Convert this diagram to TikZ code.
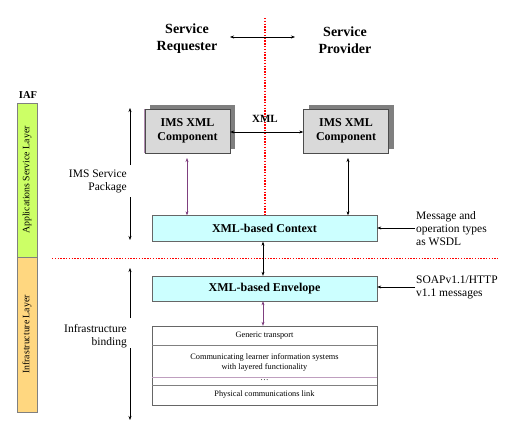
\documentclass[tikz,border=0pt]{standalone}
\usepackage{fontspec}
\setmainfont{Liberation Serif}
\usetikzlibrary{arrows.meta}
\definecolor{boxgray}{HTML}{D9D9D9}
\definecolor{shadowgray}{HTML}{7F7F7F}
\definecolor{ctxcyan}{HTML}{CCFFFF}
\definecolor{layergreen}{HTML}{CCFF66}
\definecolor{layerorange}{HTML}{FFD780}
\definecolor{purp}{HTML}{7F3F7F}
\definecolor{dotred}{HTML}{FF0000}
\tikzset{
  x=1pt, y=-1pt,
  arr/.style={-{Stealth[length=4pt,width=3pt]}, line width=0.5pt},
  darr/.style={{Stealth[length=4pt,width=3pt]}-{Stealth[length=4pt,width=3pt]}, line width=0.5pt},
  reddot/.style={draw=dotred, line width=1.8pt, dash pattern=on 1.4pt off 1.4pt},
  imsbox/.style={draw=black!70, fill=boxgray, minimum width=85pt, minimum height=44pt, font=\bfseries\fontsize{12}{14}\selectfont, align=center, inner sep=0pt},
  shadowbox/.style={fill=shadowgray, minimum width=85pt, minimum height=44pt, inner sep=0pt},
  ctxbox/.style={draw=black!60, fill=ctxcyan, minimum width=225pt, minimum height=26pt, font=\bfseries\fontsize{12}{14}\selectfont, inner sep=0pt},
  lbl/.style={font=\fontsize{11.5}{13}\selectfont, inner sep=1pt},
  small/.style={font=\fontsize{8.3}{10.5}\selectfont, inner sep=0pt},
  layer/.style={draw=black!50, minimum width=20pt, inner sep=0pt},
}
\begin{document}
\begin{tikzpicture}
\useasboundingbox (0,0) rectangle (517,431);
% dotted red lines
\coordinate (vtop) at (265,18);
\coordinate (vbot) at (265,215);
\coordinate (hl) at (52,258.5);
\coordinate (hr) at (498,258.5);
\draw[reddot] (vtop) -- (vbot);
\draw[reddot] (hl) -- (hr);
% header
\node[font=\bfseries\fontsize{14}{17}\selectfont, align=center] (req) at (187,39) {Service\\Requester};
\node[font=\bfseries\fontsize{14}{17}\selectfont, align=center] (prov) at (345,40) {Service\\Provider};
\coordinate (ra) at (230,37);
\coordinate (pa) at (295,37);
\draw[darr] (ra) -- (pa);
% IAF layers
\node[font=\bfseries\fontsize{10.5}{12}\selectfont] (iaf) at (28,95) {IAF};
\node[layer, fill=layergreen, minimum height=154pt] (app) at (27,180) {};
\node[layer, fill=layerorange, minimum height=155pt] (infra) at (27,334.5) {};
\node[rotate=90, font=\fontsize{9.8}{11}\selectfont] (appl) at (app) {Applications Service Layer};
\node[rotate=90, font=\fontsize{9.8}{11}\selectfont] (infl) at (infra) {Infrastructure Layer};
% IMS components with shadows
\node[shadowbox] (s1) at (192.5,126.5) {};
\node[imsbox] (c1) at (187.5,131) {IMS XML\\Component};
\draw[purp!60, line width=0.8pt] (c1.north west) -- (c1.south west);
\node[shadowbox] (s2) at (351,126.5) {};
\node[imsbox] (c2) at (346,131) {IMS XML\\Component};
\node[font=\bfseries\fontsize{11}{12}\selectfont] (xml) at (265,119) {XML};
\draw[darr] (c1.east |- 0,132) -- (c2.west |- 0,132);
% context and envelope
\node[ctxbox] (ctx) at (264.5,228.5) {XML-based Context};
\node[ctxbox, minimum height=25pt] (env) at (264.5,288.5) {XML-based Envelope};
\draw[darr, purp] (187,158) -- (ctx.north -| 187,0);
\draw[darr] (348,158) -- (ctx.north -| 348,0);
\draw[darr] (ctx.south -| 263,0) -- (env.north -| 263,0);
% right labels
\node[lbl, align=left, anchor=west] (wsdl) at (415,229) {Message and\\operation types\\as WSDL};
\node[lbl, align=left, anchor=west] (soap) at (415,287.5) {SOAPv1.1/HTTP\\v1.1 messages};
\draw[arr] (wsdl.west |- 0,228) -- (ctx.east |- 0,228);
\draw[arr] (soap.west |- 0,287) -- (env.east |- 0,287);
% transport stack
\node[draw=black!60, minimum width=225pt, minimum height=79pt, inner sep=0pt] (tr) at (264.5,365.5) {};
\coordinate (l1a) at (152,345); \coordinate (l1b) at (377,345);
\coordinate (l2a) at (152,377); \coordinate (l2b) at (377,377);
\coordinate (l3a) at (152,385); \coordinate (l3b) at (377,385);
\draw[black!50] (l1a) -- (l1b);
\draw[purp!50] (l2a) -- (l2b);
\draw[black!50] (l3a) -- (l3b);
\node[small] (t1) at (264.5,336) {Generic transport};
\node[small, align=center] (t2) at (264.5,362.5) {Communicating learner information systems\\with layered functionality};
\node[small] (t3) at (264.5,380) {\dots};
\node[small] (t4) at (264.5,395) {Physical communications link};
\draw[darr, purp] (env.south -| 263,0) -- (tr.north -| 263,0);
% left brackets
\node[lbl, align=right, anchor=east] (pkg) at (128,181) {IMS Service\\Package};
\coordinate (p1) at (130,108);
\coordinate (p2) at (130,240);
\draw[arr] (130,165) -- (p1);
\draw[arr] (130,197) -- (p2);
\node[lbl, align=right, anchor=east] (bind) at (128,336.5) {Infrastructure\\binding};
\coordinate (b1) at (130,268);
\coordinate (b2) at (130,420);
\draw[arr] (130,318) -- (b1);
\draw[arr] (130,348) -- (b2);
\end{tikzpicture}
\end{document}
